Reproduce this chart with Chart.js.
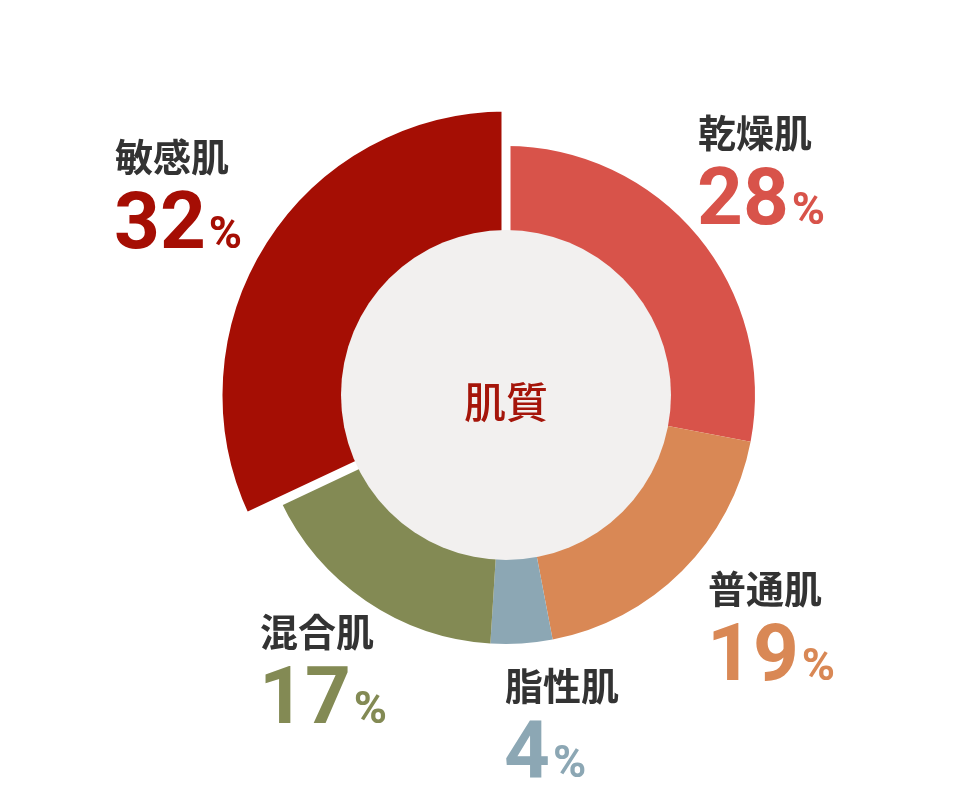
<!DOCTYPE html>
<html>
<head>
<meta charset="utf-8">
<script src="https://cdn.jsdelivr.net/npm/chart.js@4.4.0/dist/chart.umd.min.js"></script>
<style>
  html, body { margin: 0; padding: 0; background: #ffffff; }
  #wrap { width: 980px; height: 800px; }
</style>
</head>
<body>
<div id="wrap"><canvas id="skinChart"></canvas></div>
<script>
/* ================= DATA ================= */

const skinLabels = ["乾燥肌", "普通肌", "脂性肌", "混合肌", "敏感肌"];
const skinValues = [28, 19, 4, 17, 32];
const skinColors = ["#D8534A", "#D98855", "#8CA7B4", "#838A54", "#A50E04"];
const centerTitle = "肌質";

/* ================= LABELS + CENTRE ================= */

// label spots: [dx from centre, dy of label middle from centre]
const labelSpots = [
    [194, -264],
    [204, 192],
    [1, 289],
    [-244, 235],
    [-389, -240]
];

const skinPlugin = {
    id: "skinPlugin",

    afterDatasetsUpdate(chart) {
        const arcs = chart.getDatasetMeta(0).data;
        // the highlighted slice sticks out further
        arcs[4].outerRadius = arcs[0].outerRadius + 39;
    },

    afterDatasetsDraw(chart) {
        const ctx = chart.ctx;
        const arcs = chart.getDatasetMeta(0).data;
        const cx = arcs[0].x;
        const cy = arcs[0].y;

        ctx.save();

        ctx.fillStyle = "#F2F0EF";
        ctx.beginPath();
        ctx.arc(cx, cy, 165, 0, Math.PI * 2);
        ctx.fill();

        ctx.fillStyle = "#A5150A";
        ctx.font = "500 42px 'Noto Sans CJK JP'";
        ctx.textAlign = "center";
        ctx.textBaseline = "middle";
        ctx.fillText(centerTitle, cx, cy + 7);

        ctx.textAlign = "left";
        skinLabels.forEach((label, i) => {
            const x = cx + labelSpots[i][0];
            const y = cy + labelSpots[i][1];

            ctx.fillStyle = "#333333";
            ctx.font = "700 38px 'Noto Sans CJK JP'";
            ctx.textBaseline = "middle";
            ctx.fillText(label, x - 2, y + 2);

            ctx.fillStyle = skinColors[i];
            ctx.textBaseline = "alphabetic";
            ctx.font = "700 80px Roboto";
            const num = String(skinValues[i]);
            ctx.fillText(num, x - 3, y + 93);
            const w = ctx.measureText(num).width;
            ctx.font = "700 45px Roboto";
            ctx.fillText("%", x - 3 + w + 3, y + 93);
        });

        ctx.restore();
    }
};

/* ================= SKIN TYPE DOUGHNUT ================= */

new Chart(document.getElementById("skinChart"), {

    type: "doughnut",

    data: {
        labels: skinLabels,
        datasets: [{
                data: skinValues,
                backgroundColor: skinColors,
                borderWidth: [0, 0, 0, 0, 9],
                borderColor: "#ffffff"
            }]
    },

    plugins: [skinPlugin],

    options: {
        responsive: true,
        maintainAspectRatio: false,
        animation: false,
        events: [],
        radius: 249,
        cutout: "62%",
        layout: {
            padding: { left: 32, right: 0, top: 0, bottom: 10 }
        },

        plugins: {
            legend: { display: false },
            tooltip: { enabled: false }
        }
    }

});
</script>
</body>
</html>
